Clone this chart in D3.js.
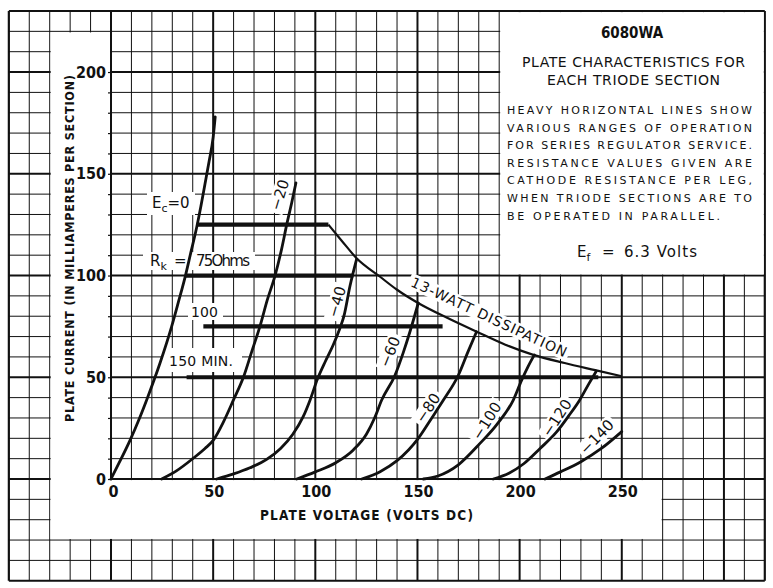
<!DOCTYPE html>
<html>
<head>
<meta charset="utf-8">
<script src="https://cdn.jsdelivr.net/npm/d3@7"></script>
<style>
  body { margin: 0; background: #fff; }
  svg { display: block; }
  .thin { font-family: "DejaVu Sans", "Liberation Sans", sans-serif; font-weight: normal; fill: #111; }
  .bold { font-family: "Liberation Sans Narrow", "DejaVu Sans Condensed", sans-serif; font-weight: bold; fill: #111; }
</style>
</head>
<body>
<div id="chart"></div>
<script>
// ===== data: [plate volts, plate mA]
var curveEc0   = [[0,0],[4,8],[9.3,19],[14,30],[17.5,39],[24,57],[29.7,75],[33,87],[36.2,99],[39,111],[42,124],[44,134],[46,145],[48,156],[50,168],[51,178]];
var curveEc20  = [[24.8,0],[32,4],[40,10],[46,15],[50,19],[55,28],[60,39],[64.8,50],[69,63],[72.9,75],[76.5,88],[80.3,100],[83.5,113],[86,125],[88.5,136],[90.5,145.5]];
var curveEc40  = [[51.7,0],[60,2.5],[68,5.5],[76,9.5],[83,15],[89,22],[94,30.5],[97.5,39],[101,49],[105,58],[108.8,66],[112,74],[114,80],[117,95],[120.2,108]];
var curveEc60  = [[90.9,0],[100,3.5],[110,8],[118.6,14.3],[125,22],[129,30],[132.5,38.8],[139,51],[143,62],[146.5,73],[150.4,86.5]];
var curveEc80  = [[122.7,0],[131.7,3.6],[140,9],[150.4,20],[157,30],[162.7,38.8],[170,51],[174.5,62],[178.9,72.4]];
var curveEc100 = [[152.9,0],[160,1.5],[170,7],[180.6,17.5],[189,27],[196.9,38.8],[201,48.6],[204,55],[207.2,61]];
var curveEc120 = [[187.1,0],[195,3],[202,7.5],[210,15],[218,23],[224,31],[229.5,39],[234,47],[237.5,53]];
var curveEc140 = [[212.4,0],[220,3.5],[230,8.5],[240,15],[250,23.3]];
var dissipation = [[106.4,125],[113,117],[120.2,108.5],[131.7,99.4],[140,93],[150.3,86.5],[165,79],[179,72.4],[193,66],[206.7,61],[222,57],[237,53.5],[250,50.5]];

var gridCurves = [curveEc0, curveEc20, curveEc40, curveEc60, curveEc80, curveEc100, curveEc120, curveEc140];
var gridNames  = ["", "\u221220", "\u221240", "\u221260", "\u221280", "\u2212100", "\u2212120", "\u2212140"];

// heavy operating lines
var opCurrent = [125, 100, 75, 50];
var opStart   = [42, 36.2, 45.2, 37];
var opEnd     = [106.4, 118.6, 162.3, 238.5];

var xTicks = [0, 50, 100, 150, 200, 250];
var yTicks = [0, 50, 100, 150, 200];

var noteLines = [
  "HEAVY HORIZONTAL LINES SHOW",
  "VARIOUS RANGES OF OPERATION",
  "FOR SERIES REGULATOR SERVICE.",
  "RESISTANCE VALUES GIVEN ARE",
  "CATHODE RESISTANCE PER LEG,",
  "WHEN TRIODE SECTIONS ARE TO",
  "BE OPERATED IN PARALLEL."
];

// ===== sheet geometry
var svgWidth = 773, svgHeight = 588;
var svg = d3.select("#chart").append("svg")
  .attr("width", svgWidth)
  .attr("height", svgHeight);

// whole graph paper runs -50..320 V and -50..230 mA
var x = d3.scaleLinear().domain([-50, 320]).range([8.85, 764.8]);
var y = d3.scaleLinear().domain([-50, 230]).range([580.75, 11]);

svg.append("rect").attr("width", svgWidth).attr("height", svgHeight).attr("fill", "#fff");

// ===== grid
var grid = svg.append("g");
var vLines = d3.range(-50, 321, 10);
var hLines = d3.range(-50, 231, 10);
function weight(v, first, last) {
  if (v === first || v === last) return 2.2;
  return v % 50 === 0 ? 2 : 1;
}
grid.selectAll(".v").data(vLines).enter().append("line")
  .attr("x1", d => x(d)).attr("x2", d => x(d))
  .attr("y1", y(230)).attr("y2", y(-50))
  .attr("stroke", "#111")
  .attr("stroke-width", d => weight(d, -50, 320));
grid.selectAll(".h").data(hLines).enter().append("line")
  .attr("y1", d => y(d)).attr("y2", d => y(d))
  .attr("x1", x(-50)).attr("x2", x(320))
  .attr("stroke", "#111")
  .attr("stroke-width", d => weight(d, -50, 230));

// white panels (label margins and note box)
var panels = [
  { v0: -30, v1: 0, i0: -30, i1: 220 },
  { v0: -30, v1: 270, i0: -30, i1: 0 },
  { v0: 190, v1: 320, i0: 100, i1: 230 }
];
svg.selectAll(".panel").data(panels).enter().append("rect")
  .attr("x", d => x(d.v0) + 1)
  .attr("y", d => y(d.i1) + 1.1)
  .attr("width", d => x(d.v1) - x(d.v0) - 2)
  .attr("height", d => y(d.i0) - y(d.i1) - 2.2)
  .attr("fill", "#fff");

// ===== axes
var leftAxis = d3.axisLeft(y).tickValues(d3.range(0, 201, 10)).tickSize(3).tickFormat("");
svg.append("g").attr("transform", `translate(${x(0)},0)`).call(leftAxis)
  .call(g => g.select(".domain").remove())
  .selectAll("line").attr("stroke", "#111").attr("stroke-width", 1.2);

svg.selectAll(".ylab").data(yTicks).enter().append("text")
  .attr("class", "bold")
  .attr("x", x(0) - 5)
  .attr("y", d => y(d))
  .attr("text-anchor", "end")
  .attr("dominant-baseline", "central")
  .attr("font-size", 16)
  .text(d => d);

svg.selectAll(".xlab").data(xTicks).enter().append("text")
  .attr("class", "bold")
  .attr("x", d => x(d) + (d === 0 ? 2.5 : 1))
  .attr("y", y(0) + 12)
  .attr("text-anchor", "middle")
  .attr("dominant-baseline", "central")
  .attr("font-size", 16)
  .text(d => d);

svg.append("text").attr("class", "bold")
  .attr("x", 260).attr("y", 515)
  .attr("dominant-baseline", "central")
  .attr("font-size", 13.5)
  .attr("textLength", 213).attr("lengthAdjust", "spacing")
  .text("PLATE VOLTAGE (VOLTS DC)");

svg.append("text").attr("class", "bold")
  .attr("transform", "translate(69,422) rotate(-90)")
  .attr("dominant-baseline", "central")
  .attr("font-size", 12.5)
  .attr("textLength", 347).attr("lengthAdjust", "spacing")
  .text("PLATE CURRENT (IN MILLIAMPERES PER SECTION)");

// ===== label backgrounds
function whiteBox(px, py, w, h) {
  svg.append("rect").attr("x", px).attr("y", py).attr("width", w).attr("height", h).attr("fill", "#fff");
}
whiteBox(147, 192, 48, 23);
whiteBox(143, 252, 112, 18);
whiteBox(188, 303, 35, 17);
whiteBox(163, 348, 79, 24);

// rotated labels: [volts, mA, angle]
var curveLabelPos = [null, [82.7,139.6,-73], [110.6,87,-74], [136.6,62.4,-68], [155.2,34.9,-56], [184,28.5,-58], [218.3,30,-57], [237.9,20.6,-46]];
var labelLayer = svg.append("g");
var textLayer;

var rotated = [];
gridNames.forEach(function(name, k) {
  if (!name) return;
  var p = curveLabelPos[k];
  rotated.push({ text: name, v: p[0], i: p[1], a: p[2], size: 15, len: null });
});
rotated.push({ text: "13-WATT DISSIPATION", v: 185, i: 79.6, a: 25, size: 14, len: 170 });

var rotGroups = labelLayer.selectAll(".rot").data(rotated).enter().append("g")
  .attr("transform", d => `translate(${x(d.v)},${y(d.i)}) rotate(${d.a})`);
rotGroups.append("rect").attr("fill", "#fff");

// ===== curves
var line = d3.line().x(d => x(d[0])).y(d => y(d[1])).curve(d3.curveMonotoneX);
svg.selectAll(".curve").data(gridCurves).enter().append("path")
  .attr("d", line)
  .attr("fill", "none")
  .attr("stroke", "#111")
  .attr("stroke-width", 2.8)
  .attr("stroke-linecap", "round");

svg.append("path").datum(dissipation)
  .attr("d", line)
  .attr("fill", "none")
  .attr("stroke", "#111")
  .attr("stroke-width", 2.2);

svg.selectAll(".op").data(opCurrent).enter().append("line")
  .attr("x1", (d, k) => x(opStart[k]))
  .attr("x2", (d, k) => x(opEnd[k]))
  .attr("y1", d => y(d)).attr("y2", d => y(d))
  .attr("stroke", "#111")
  .attr("stroke-width", 4.2);

// ===== texts over the curves
textLayer = svg.append("g");
var rotTexts = textLayer.selectAll(".rt").data(rotated).enter().append("text")
  .attr("class", "thin")
  .attr("transform", d => `translate(${x(d.v)},${y(d.i)}) rotate(${d.a})`)
  .attr("text-anchor", "middle")
  .attr("dominant-baseline", "central")
  .attr("font-size", d => d.size)
  .each(function(d) { if (d.len) d3.select(this).attr("textLength", d.len).attr("lengthAdjust", "spacing"); })
  .text(d => d.text);

rotTexts.each(function(d, k) {
  var w = d.len || this.getComputedTextLength();
  d3.select(rotGroups.nodes()[k]).select("rect")
    .attr("x", -w / 2 - 3).attr("y", -d.size * 0.55)
    .attr("width", w + 6).attr("height", d.size * 1.1);
});

// Ec = 0
var ec = textLayer.append("text").attr("class", "thin")
  .attr("x", 152).attr("y", 203).attr("font-size", 15)
  .attr("dominant-baseline", "central");
ec.append("tspan").text("E");
ec.append("tspan").attr("dy", 5).attr("font-size", 11).text("c");
ec.append("tspan").attr("dy", -5).text("=0");

var rk = textLayer.append("text").attr("class", "thin")
  .attr("x", 150).attr("y", 261).attr("font-size", 15)
  .attr("dominant-baseline", "central");
rk.append("tspan").text("R");
rk.append("tspan").attr("dy", 5).attr("font-size", 11).text("k");
rk.append("tspan").attr("dy", -5).attr("x", 174).text("=");
rk.append("tspan").attr("x", 196).attr("textLength", 54).attr("lengthAdjust", "spacing").text("75Ohms");

textLayer.append("text").attr("class", "thin")
  .attr("x", 191).attr("y", 312).attr("font-size", 14)
  .attr("dominant-baseline", "central")
  .attr("textLength", 27).attr("lengthAdjust", "spacing")
  .text("100");

textLayer.append("text").attr("class", "thin")
  .attr("x", 169).attr("y", 361).attr("font-size", 14)
  .attr("dominant-baseline", "central")
  .attr("textLength", 64).attr("lengthAdjust", "spacing")
  .text("150 MIN.");

// ===== note box
var box = svg.append("g");
box.append("text").attr("class", "bold")
  .attr("x", 632).attr("y", 33).attr("font-size", 15)
  .attr("text-anchor", "middle").attr("dominant-baseline", "central")
  .text("6080WA");
box.append("text").attr("class", "thin")
  .attr("x", 522).attr("y", 62).attr("font-size", 14)
  .attr("dominant-baseline", "central")
  .attr("textLength", 223).attr("lengthAdjust", "spacing")
  .text("PLATE CHARACTERISTICS FOR");
box.append("text").attr("class", "thin")
  .attr("x", 547).attr("y", 80).attr("font-size", 14)
  .attr("dominant-baseline", "central")
  .attr("textLength", 173).attr("lengthAdjust", "spacing")
  .text("EACH TRIODE SECTION");

box.selectAll(".note").data(noteLines).enter().append("text")
  .attr("class", "thin")
  .attr("x", 507)
  .attr("y", (d, k) => 110.7 + k * 17.55)
  .attr("font-size", 11)
  .attr("dominant-baseline", "central")
  .attr("textLength", (d, k) => k === noteLines.length - 1 ? 213 : 245)
  .attr("lengthAdjust", "spacing")
  .text(d => d);

var ef = box.append("text").attr("class", "thin")
  .attr("x", 577).attr("y", 251.5).attr("font-size", 15)
  .attr("dominant-baseline", "central");
ef.append("tspan").text("E");
ef.append("tspan").attr("dy", 5).attr("font-size", 11).text("f");
ef.append("tspan").attr("dy", -5).attr("x", 602).text("=");
ef.append("tspan").attr("x", 624).attr("textLength", 73).attr("lengthAdjust", "spacing").text("6.3 Volts");
</script>
</body>
</html>
